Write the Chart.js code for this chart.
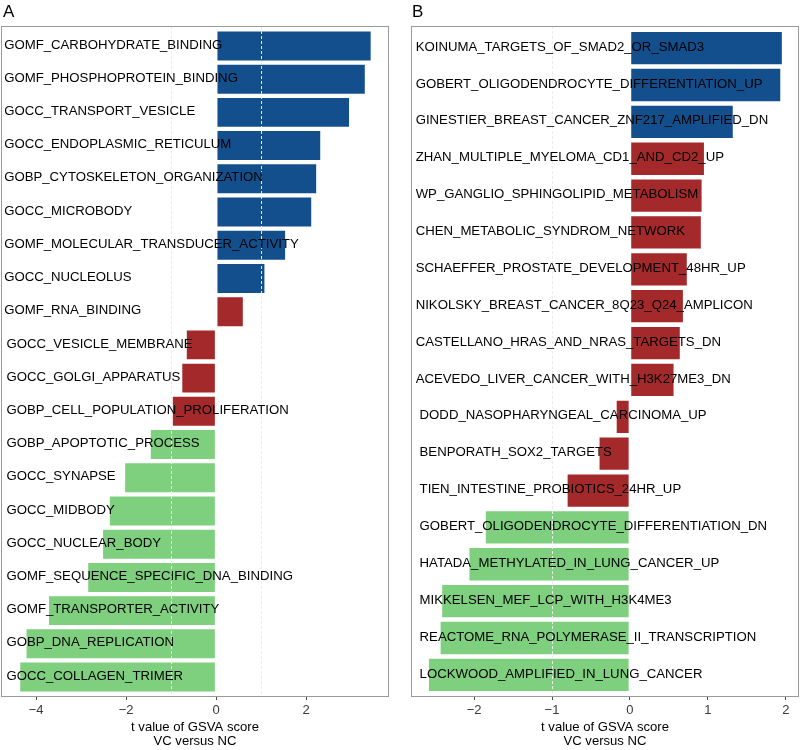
<!DOCTYPE html>
<html>
<head>
<meta charset="utf-8">
<script src="https://cdn.jsdelivr.net/npm/chart.js@4.4.1/dist/chart.umd.min.js"></script>
<style>
  body { margin: 0; background: #fff; }
  .wrap { position: relative; width: 800px; height: 750px; }
  .panel { position: absolute; top: 0; width: 400px; height: 750px; }
  .tag { position: absolute; top: 2px; font: 17px "Liberation Sans", Arial, sans-serif; color: #000; }
</style>
</head>
<body>
<div class="wrap">
  <div class="panel" style="left:0"><canvas id="chartA" width="400" height="750"></canvas></div>
  <div class="panel" style="left:400px"><canvas id="chartB" width="400" height="750"></canvas></div>
  <div class="tag" style="left:3px">A</div>
  <div class="tag" style="left:412px">B</div>
</div>
<script>
// panel A - GO terms
const termsA = [
  'GOMF_CARBOHYDRATE_BINDING', 'GOMF_PHOSPHOPROTEIN_BINDING', 'GOCC_TRANSPORT_VESICLE',
  'GOCC_ENDOPLASMIC_RETICULUM', 'GOBP_CYTOSKELETON_ORGANIZATION', 'GOCC_MICROBODY',
  'GOMF_MOLECULAR_TRANSDUCER_ACTIVITY', 'GOCC_NUCLEOLUS', 'GOMF_RNA_BINDING',
  'GOCC_VESICLE_MEMBRANE', 'GOCC_GOLGI_APPARATUS', 'GOBP_CELL_POPULATION_PROLIFERATION',
  'GOBP_APOPTOTIC_PROCESS', 'GOCC_SYNAPSE', 'GOCC_MIDBODY', 'GOCC_NUCLEAR_BODY',
  'GOMF_SEQUENCE_SPECIFIC_DNA_BINDING', 'GOMF_TRANSPORTER_ACTIVITY', 'GOBP_DNA_REPLICATION',
  'GOCC_COLLAGEN_TRIMER'
];
const tA = [3.45, 3.32, 2.97, 2.33, 2.24, 2.13, 1.55, 1.09, 0.61,
  -0.67, -0.77, -0.98, -1.47, -2.04, -2.38, -2.53, -2.86, -3.73, -4.23, -4.37];
const ticksA = [-4, -2, 0, 2];

// panel B - gene sets
const termsB = [
  'KOINUMA_TARGETS_OF_SMAD2_OR_SMAD3', 'GOBERT_OLIGODENDROCYTE_DIFFERENTIATION_UP',
  'GINESTIER_BREAST_CANCER_ZNF217_AMPLIFIED_DN', 'ZHAN_MULTIPLE_MYELOMA_CD1_AND_CD2_UP',
  'WP_GANGLIO_SPHINGOLIPID_METABOLISM', 'CHEN_METABOLIC_SYNDROM_NETWORK',
  'SCHAEFFER_PROSTATE_DEVELOPMENT_48HR_UP', 'NIKOLSKY_BREAST_CANCER_8Q23_Q24_AMPLICON',
  'CASTELLANO_HRAS_AND_NRAS_TARGETS_DN', 'ACEVEDO_LIVER_CANCER_WITH_H3K27ME3_DN',
  'DODD_NASOPHARYNGEAL_CARCINOMA_UP', 'BENPORATH_SOX2_TARGETS', 'TIEN_INTESTINE_PROBIOTICS_24HR_UP',
  'GOBERT_OLIGODENDROCYTE_DIFFERENTIATION_DN', 'HATADA_METHYLATED_IN_LUNG_CANCER_UP',
  'MIKKELSEN_MEF_LCP_WITH_H3K4ME3', 'REACTOME_RNA_POLYMERASE_II_TRANSCRIPTION',
  'LOCKWOOD_AMPLIFIED_IN_LUNG_CANCER'
];
const tB = [1.96, 1.94, 1.33, 0.96, 0.93, 0.92, 0.74, 0.69, 0.65, 0.57,
  -0.18, -0.40, -0.81, -1.86, -2.07, -2.42, -2.44, -2.59];
const ticksB = [-2, -1, 0, 1, 2];

const BLUE = '#134f8c', RED = '#a3292b', GREEN = '#7ecf7e';
const FONT = '"Liberation Sans", Arial, sans-serif';

// blue: t > 1, red: -1 < t <= 1, green: t <= -1
function colorFor(v) {
  if (v > 1) return BLUE;
  if (v > -1) return RED;
  return GREEN;
}

function makeChart(id, terms, vals, ticks, xmin, xmax, dashAt, labelPos, labelNeg, pad) {
  const labelPlugin = {
    id: 'decor',
    afterDatasetsDraw(chart) {
      const {ctx, chartArea: a, scales: {x, y}} = chart;
      ctx.save();
      // dashed reference lines
      ctx.strokeStyle = '#ececec';
      ctx.lineWidth = 1;
      ctx.setLineDash([3, 2]);
      dashAt.forEach(v => {
        const px = Math.round(x.getPixelForValue(v)) + 0.5;
        ctx.beginPath();
        ctx.moveTo(px, a.top);
        ctx.lineTo(px, a.bottom);
        ctx.stroke();
      });
      ctx.setLineDash([]);
      // term names
      ctx.fillStyle = '#000';
      ctx.font = '13.2px ' + FONT;
      ctx.textAlign = 'left';
      ctx.textBaseline = 'middle';
      terms.forEach((t, i) => {
        const px = x.getPixelForValue(vals[i] > 0 ? labelPos : labelNeg);
        ctx.fillText(t, px, y.getPixelForValue(i) - 1);
      });
      // panel border
      ctx.strokeStyle = '#9a9a9a';
      ctx.lineWidth = 1;
      ctx.strokeRect(a.left + 0.5, a.top + 0.5, a.right - a.left - 1, a.bottom - a.top - 1);
      ctx.restore();
    }
  };

  return new Chart(document.getElementById(id), {
    type: 'bar',
    data: {
      labels: terms,
      datasets: [{
        data: vals,
        backgroundColor: vals.map(colorFor),
        borderColor: 'rgba(255,255,255,0.9)',
        borderWidth: 0.8,
        borderSkipped: false,
        barPercentage: 0.92,
        categoryPercentage: 1.0
      }]
    },
    options: {
      indexAxis: 'y',
      responsive: false,
      animation: false,
      layout: { padding: pad },
      plugins: { legend: { display: false }, tooltip: { enabled: false } },
      scales: {
        y: {
          type: 'category',
          display: false,
          offset: true,
          // ggplot style 0.6 expansion on discrete axis
          afterBuildTicks: s => {
            s._startValue = s.min - 0.6;
            s._valueRange = s.max - s.min + 1.2;
          }
        },
        x: {
          type: 'linear',
          min: xmin,
          max: xmax,
          afterBuildTicks: s => { s.ticks = ticks.map(v => ({ value: v })); },
          afterFit: s => { s.height = 53; },
          border: { display: false },
          grid: { drawOnChartArea: false, drawTicks: true, tickLength: 3, tickColor: '#4d4d4d' },
          ticks: {
            color: '#3a3a3a',
            padding: 3,
            font: { family: FONT, size: 13 },
            callback: v => (v < 0 ? '\u2212' + Math.abs(v) : String(v))
          },
          title: {
            display: true,
            text: ['t value of GSVA score', 'VC versus NC'],
            color: '#000',
            font: { family: FONT, size: 13.1, lineHeight: 1.0 },
            padding: { top: 4, bottom: 2.5 }
          }
        }
      }
    },
    plugins: [labelPlugin]
  });
}

makeChart('chartA', termsA, tA, ticksA, -4.78, 3.84, [-1, 1], -4.71, -4.66,
  { top: 26, left: 1, right: 11, bottom: 0 });
makeChart('chartB', termsB, tB, ticksB, -2.81, 2.17, [-1], -2.75, -2.70,
  { top: 26, left: 11, right: 1, bottom: 0 });
</script>
</body>
</html>
